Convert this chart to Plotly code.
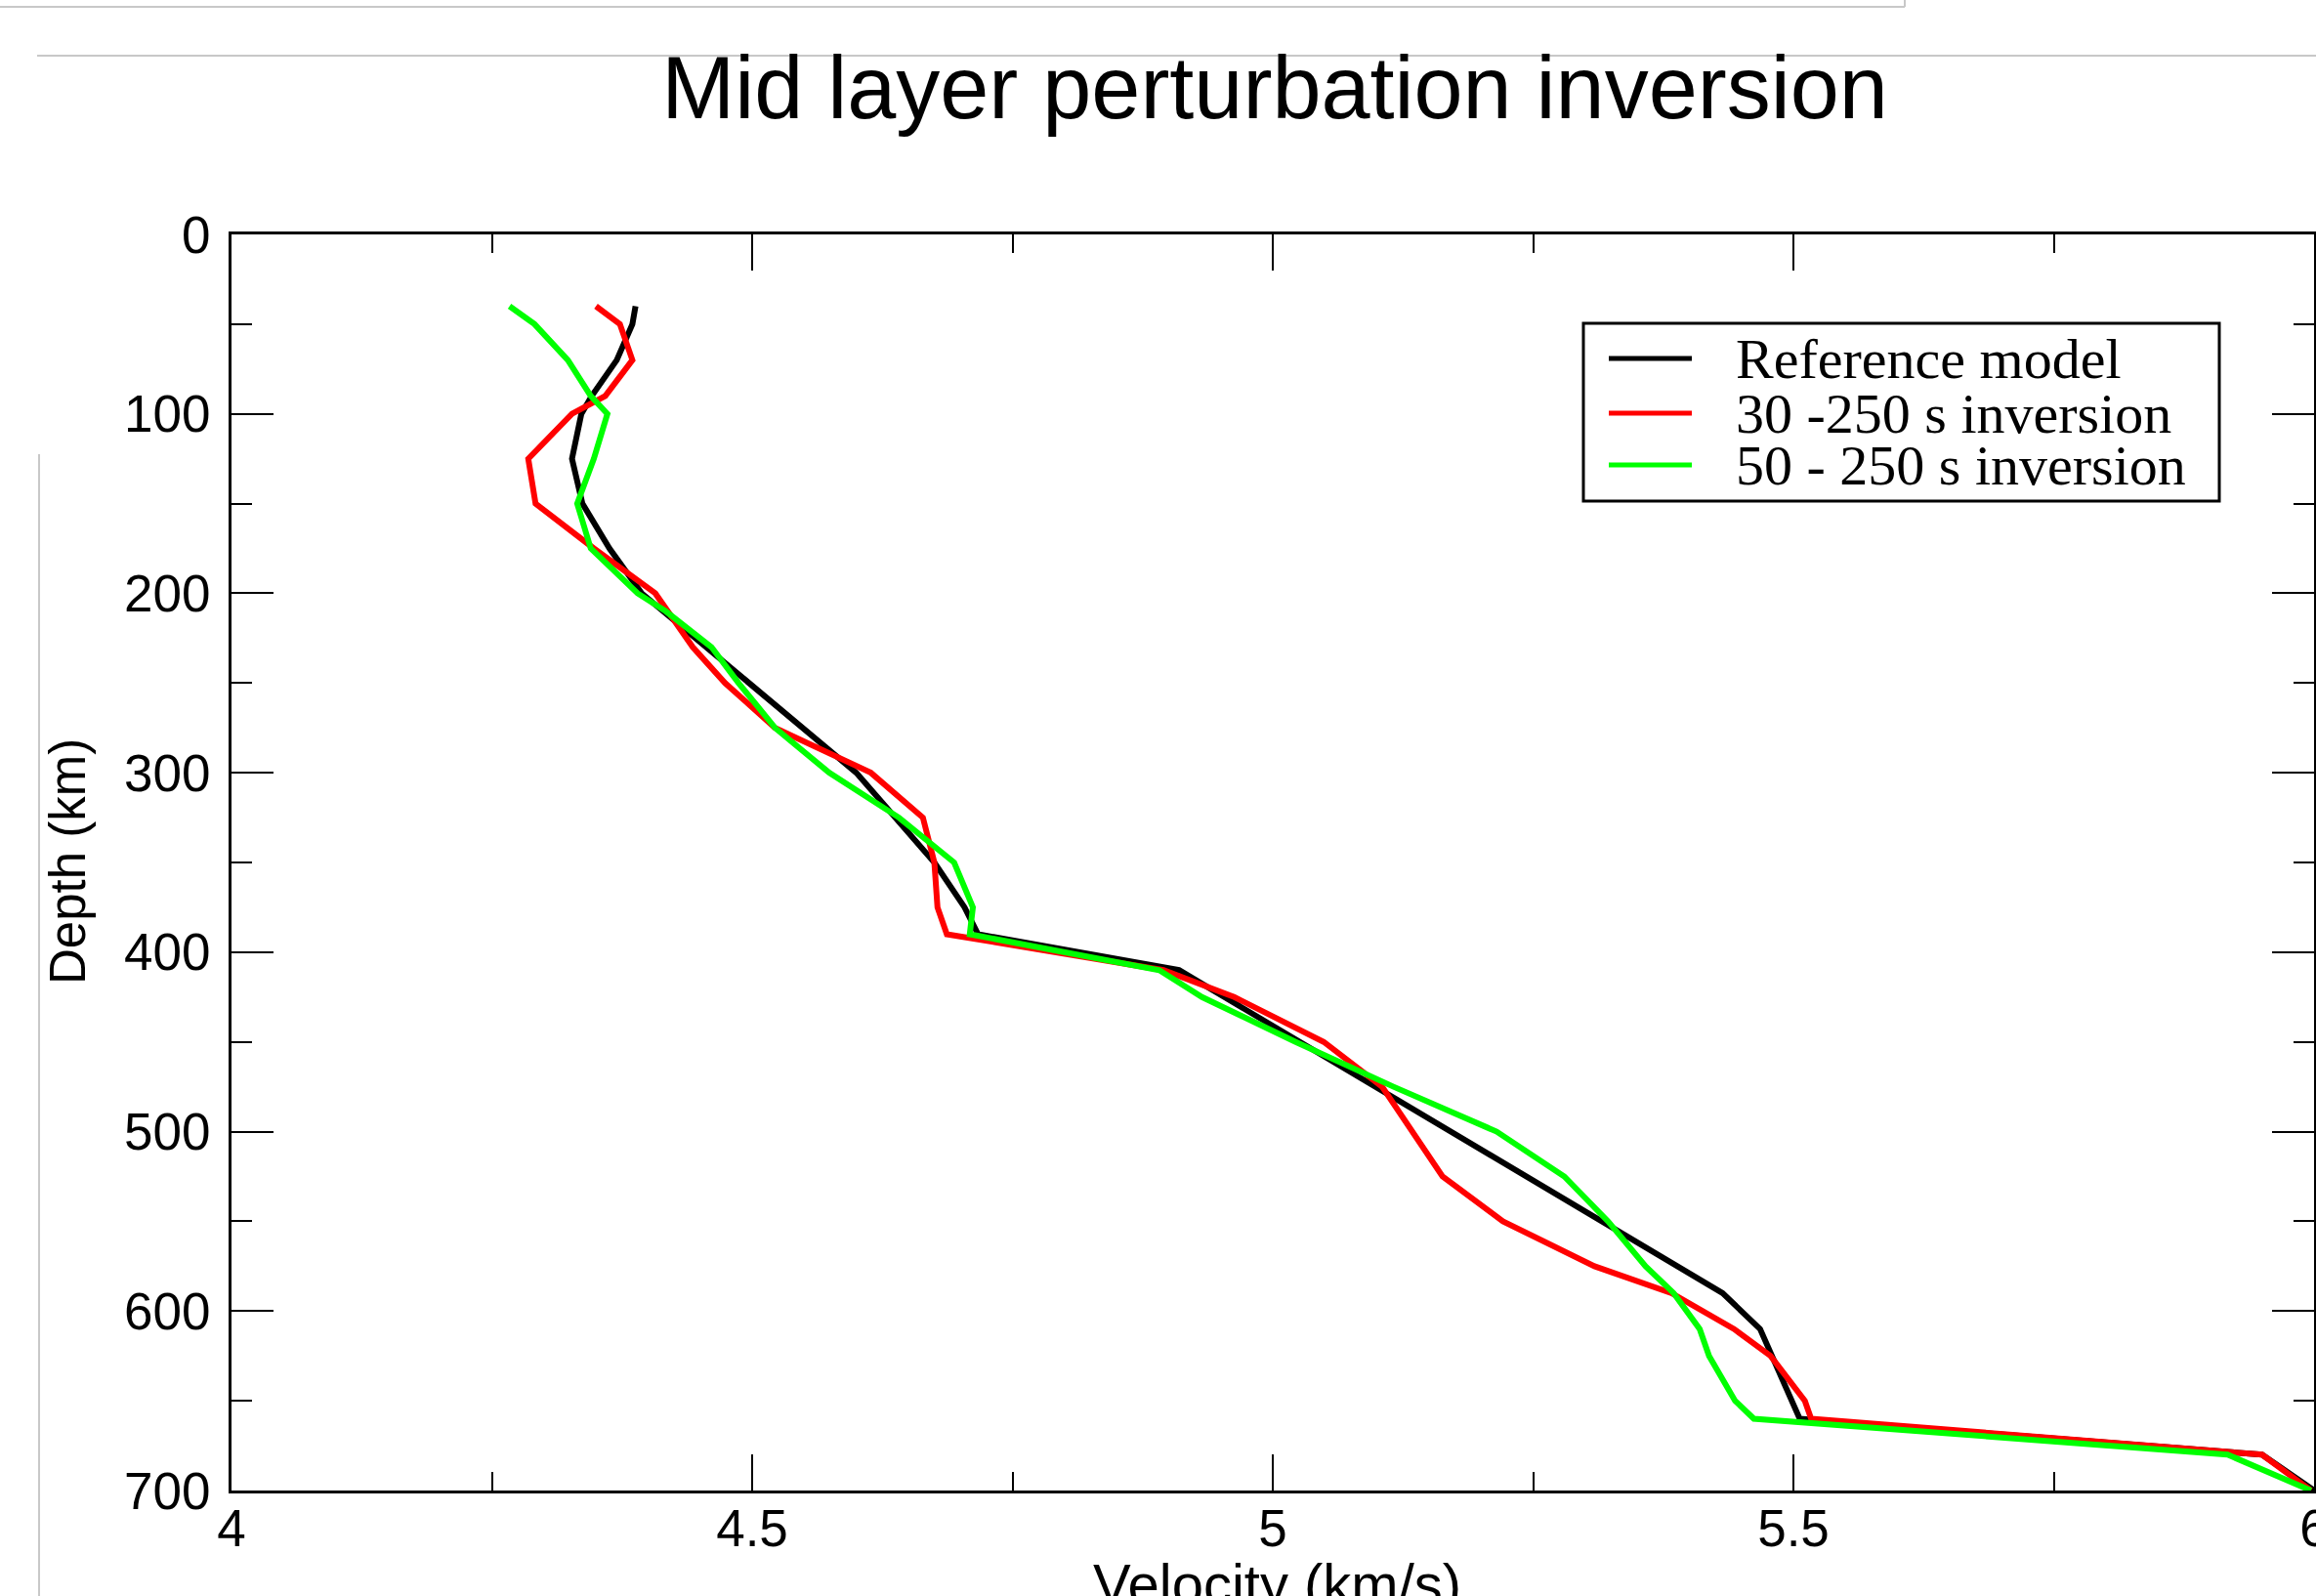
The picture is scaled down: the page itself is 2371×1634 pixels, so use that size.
import plotly.graph_objects as go

# ---------------- data ----------------
ref_depth = [40, 50, 70, 90, 100, 125, 150, 175, 200, 250, 300, 350, 375, 390,
             410, 590, 610, 660, 680, 700]
ref_vel = [4.388, 4.385, 4.370, 4.346, 4.336, 4.327, 4.337, 4.363, 4.394, 4.497,
           4.600, 4.675, 4.704, 4.717, 4.910, 5.432, 5.468, 5.506, 5.950, 6.000]

inv30_depth = [40, 50, 70, 90, 100, 125, 150, 175, 200, 230, 250, 275, 300, 325,
               350, 375, 390, 410, 425, 450, 475, 525, 550, 575, 590, 610, 625,
               650, 660, 680, 700]
inv30_vel = [4.350, 4.373, 4.385, 4.359, 4.327, 4.285, 4.292, 4.348, 4.407, 4.443,
             4.474, 4.522, 4.614, 4.664, 4.675, 4.678, 4.687, 4.895, 4.963, 5.049,
             5.105, 5.163, 5.221, 5.309, 5.383, 5.443, 5.478, 5.511, 5.517, 5.950,
             5.997]

inv50_depth = [40, 50, 70, 90, 100, 125, 150, 175, 200, 210, 230, 250, 275, 300,
               325, 350, 375, 390, 410, 425, 450, 475, 500, 525, 550, 575, 590,
               610, 625, 650, 660, 680, 700]
inv50_vel = [4.267, 4.291, 4.323, 4.345, 4.361, 4.348, 4.332, 4.345, 4.390, 4.417,
             4.461, 4.487, 4.522, 4.574, 4.641, 4.694, 4.712, 4.709, 4.891, 4.932,
             5.022, 5.116, 5.215, 5.280, 5.322, 5.358, 5.385, 5.410, 5.419, 5.444,
             5.462, 5.917, 5.997]

series_names = ["Reference model", "30 -250 s inversion", "50 - 250 s inversion"]
series_colors = ["#000000", "#ff0000", "#00ff00"]

title_text = "Mid layer perturbation inversion"
x_title = "Velocity (km/s)"
y_title = "Depth (km)"

# ---------------- figure ----------------
W, H = 2371, 1634
L, R, T, B = 237, 2, 240, 108
PW, PH = W - L - R, H - T - B


def px(xp):
    return (xp - L) / PW


def py(yp):
    return (H - B - yp) / PH


fig = go.Figure()
for vel, dep, name, col in [(ref_vel, ref_depth, series_names[0], series_colors[0]),
                            (inv30_vel, inv30_depth, series_names[1], series_colors[1]),
                            (inv50_vel, inv50_depth, series_names[2], series_colors[2])]:
    fig.add_trace(go.Scatter(x=vel, y=dep, mode="lines", name=name,
                             line=dict(color=col, width=6), showlegend=False))

axis_common = dict(
    showgrid=False, zeroline=False, showline=True, linecolor="black", linewidth=3,
    mirror="allticks", ticks="inside", tickcolor="black", tickwidth=2,
    tickfont=dict(family="Liberation Sans", size=53, color="black"),
    automargin=False, ticklabeloverflow="allow",
)

fig.update_xaxes(range=[4, 6], tick0=4, dtick=0.5, ticklen=37,
                 minor=dict(dtick=0.25, ticks="inside", ticklen=19, tickwidth=2,
                            tickcolor="black"),
                 ticklabelstandoff=-10,
                 **axis_common)
fig.update_yaxes(range=[700, 0], tick0=0, dtick=100, ticklen=43,
                 minor=dict(dtick=50, ticks="inside", ticklen=21, tickwidth=2,
                            tickcolor="black"),
                 ticklabelstandoff=8,
                 **axis_common)

annotations = [
    # axis titles (placed freely; the x title runs off the bottom edge as in the reference)
    dict(text=x_title, xref="paper", yref="paper", x=px(1307), y=py(1621),
         xanchor="center", yanchor="middle", showarrow=False,
         font=dict(family="Liberation Sans", size=58, color="black")),
    dict(text=y_title, xref="paper", yref="paper", x=px(69.5), y=py(882.5),
         xanchor="center", yanchor="middle", showarrow=False, textangle=-90,
         font=dict(family="Liberation Sans", size=51, color="black")),
]

# manual legend (box, line samples, labels)
shapes = [dict(type="rect", xref="paper", yref="paper",
               x0=px(1621), x1=px(2272), y0=py(331), y1=py(513),
               line=dict(color="black", width=3), fillcolor="white", layer="above")]
rows = [367, 423, 476]
for name, col, yy in zip(series_names, series_colors, rows):
    shapes.append(dict(type="line", xref="paper", yref="paper",
                       x0=px(1647), x1=px(1732), y0=py(yy), y1=py(yy),
                       line=dict(color=col, width=5), layer="above"))
    annotations.append(dict(text=name, xref="paper", yref="paper",
                            x=px(1775), y=py(yy), xanchor="left", yanchor="middle",
                            showarrow=False,
                            font=dict(family="Liberation Serif", size=58, color="black")))

# faint scan-edge lines visible in the reference
for x0, y0, x1, y1 in [(0, 7, 1950, 7), (1950, 0, 1950, 7), (38, 57, 2371, 57),
                       (40, 465, 40, 1634)]:
    shapes.append(dict(type="line", xref="paper", yref="paper",
                       x0=px(x0), x1=px(x1), y0=py(y0), y1=py(y1),
                       line=dict(color="#c8c8c8", width=2), layer="below"))

fig.update_layout(
    width=W, height=H,
    margin=dict(l=L, r=R, t=T, b=B, autoexpand=False),
    paper_bgcolor="white", plot_bgcolor="white",
    title=dict(text=title_text, xref="paper", x=px(1305), xanchor="center",
               yref="container", y=1 - 89 / H, yanchor="middle",
               font=dict(family="Liberation Sans", size=90, color="black")),
    shapes=shapes, annotations=annotations,
    showlegend=False,
)

fig.write_html("out.html",
               config={"displayModeBar": False},
               post_script="document.body.style.margin='0';"
                           "document.body.style.overflow='hidden';")
